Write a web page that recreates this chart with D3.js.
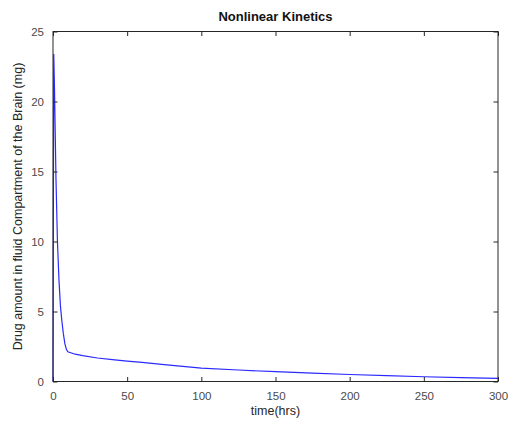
<!DOCTYPE html>
<html><head><meta charset="utf-8">
<script src="https://cdn.jsdelivr.net/npm/d3@7"></script>
<style>
html,body{margin:0;padding:0;background:#fff;}
svg{display:block;font-family:"Liberation Sans",Arial,sans-serif;}
</style></head>
<body>
<svg id="c" width="512" height="424"></svg>
<script>
const timeHrs = [0, 0.5, 1, 2, 3, 4, 5, 6, 7, 8, 9, 10, 15, 20, 30, 40, 50, 60, 75, 100, 125, 150, 175, 200, 225, 250, 275, 300];
const drugMg  = [0, 23.4, 21, 14.5, 10, 7.3, 5.4, 4.3, 3.4, 2.7, 2.3, 2.12, 1.95, 1.85, 1.68, 1.56, 1.46, 1.36, 1.2, 0.95, 0.82, 0.7, 0.6, 0.5, 0.42, 0.34, 0.28, 0.22];
const xTicks = [0, 50, 100, 150, 200, 250, 300];
const yTicks = [0, 5, 10, 15, 20, 25];
const titleText = "Nonlinear Kinetics";
const xLabel = "time(hrs)";
const yLabel = "Drug amount in fluid Compartment of the Brain (mg)";

const svg = d3.select("#c");
const m = {l:53, t:31.5, r:498, b:381.5};
const x = d3.scaleLinear().domain([0,300]).range([m.l, m.r]);
const y = d3.scaleLinear().domain([0,25]).range([m.b, m.t]);
const axisCol = "#262626", tickCol = "#4a4a4a";

svg.append("rect").attr("x",m.l).attr("y",m.t).attr("width",m.r-m.l).attr("height",m.b-m.t).attr("fill","#fff");

const data = timeHrs.map((t,i)=>[t, drugMg[i]]);
svg.append("path").datum(data)
  .attr("fill","none").attr("stroke","#2a2aff").attr("stroke-width",1.2)
  .attr("d", d3.line().x(d=>x(d[0])).y(d=>y(d[1])));

function style(g){
  g.select(".domain").remove();
  g.selectAll(".tick line").attr("stroke",axisCol);
  g.selectAll(".tick text").attr("fill",tickCol).attr("font-size",11.5).attr("font-family","Liberation Sans, Arial, sans-serif");
}
const tl = 4.5;
svg.append("g").attr("transform",`translate(0,${m.b})`)
  .call(d3.axisBottom(x).tickValues(xTicks).tickSizeInner(-tl).tickSizeOuter(0).tickPadding(10).tickFormat(d3.format("d"))).call(style);
svg.append("g").attr("transform",`translate(0,${m.t})`)
  .call(d3.axisTop(x).tickValues(xTicks).tickSizeInner(-tl).tickSizeOuter(0).tickFormat("")).call(style);
svg.append("g").attr("transform",`translate(${m.l},0)`)
  .call(d3.axisLeft(y).tickValues(yTicks).tickSizeInner(-tl).tickSizeOuter(0).tickPadding(9).tickFormat(d3.format("d"))).call(style);
svg.append("g").attr("transform",`translate(${m.r},0)`)
  .call(d3.axisRight(y).tickValues(yTicks).tickSizeInner(-tl).tickSizeOuter(0).tickFormat("")).call(style);

svg.append("rect").attr("x",m.l).attr("y",m.t).attr("width",m.r-m.l).attr("height",m.b-m.t)
  .attr("fill","none").attr("stroke",axisCol).attr("stroke-width",1);

svg.append("text").attr("x",(m.l+m.r)/2).attr("y",21).attr("text-anchor","middle")
  .attr("font-size",13).attr("font-weight","bold").attr("fill","#111").text(titleText);
svg.append("text").attr("x",(m.l+m.r)/2).attr("y",415).attr("text-anchor","middle")
  .attr("font-size",12.5).attr("fill","#262626").text(xLabel);
svg.append("text").attr("transform",`translate(22,${(m.t+m.b)/2}) rotate(-90)`).attr("text-anchor","middle")
  .attr("font-size",12.5).attr("fill","#262626").text(yLabel);
</script>
</body></html>
